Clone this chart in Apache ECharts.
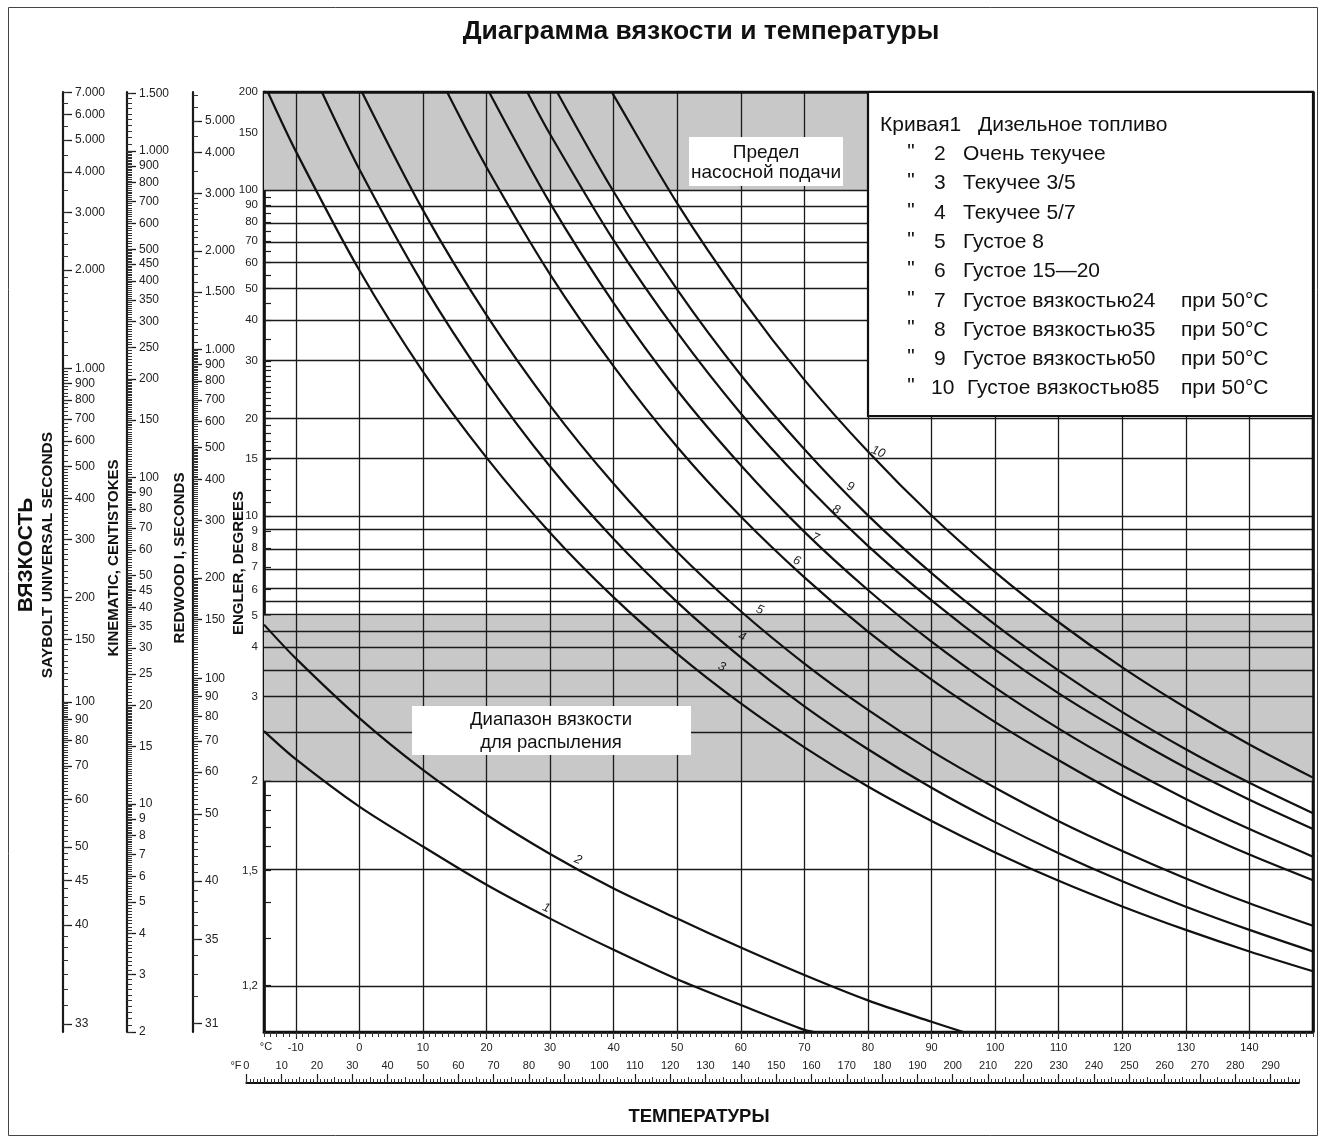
<!DOCTYPE html>
<html><head><meta charset="utf-8">
<script src="https://cdn.jsdelivr.net/npm/echarts@6.0.0/dist/echarts.min.js"></script>
<style>html,body{margin:0;padding:0;background:#fff}#chart{width:1321px;height:1140px}</style>
</head><body><div id="chart"></div>
<script>
// ------------------------- DATA -------------------------
// Temperatures (°C) at which the curves were read
const tempsC = [-15, -10, 0, 10, 20, 30, 40, 50, 60, 70, 80, 90, 100, 110, 120, 130, 140, 150];
// Kinematic viscosity (cSt) of each curve at those temperatures (null = outside chart)
const curve1  = [16.7, 13.7, 9.8, 7.4, 5.65, 4.45, 3.57, 2.9, 2.42, 2.03, null, null, null, null, null, null, null, null];
const curve2  = [35.4, 27.9, 18.3, 12.7, 9.26, 7.02, 5.5, 4.45, 3.63, 2.99, 2.5, 2.15, null, null, null, null, null, null];
const curve3  = [null, 999, 431, 211, 115, 67.7, 42.9, 28.8, 20.3, 14.9, 11.3, 8.86, 7.10, 5.81, 4.85, 4.11, 3.53, 3.07];
const curve4  = [null, null, 879, 391, 196, 108, 64.8, 41.5, 28.1, 19.9, 14.7, 11.2, 8.79, 7.06, 5.79, 4.84, 4.11, 3.53];
const curve5  = [null, null, null, 659, 314, 166, 95.6, 59.1, 38.9, 26.9, 19.4, 14.5, 11.2, 8.85, 7.17, 5.91, 4.96, 4.23];
const curve6  = [null, null, null, null, 892, 419, 219, 124, 75.9, 49.4, 33.7, 24.0, 17.8, 13.6, 10.6, 8.54, 6.99, 5.83];
const curve7  = [null, null, null, null, null, 692, 342, 185, 109, 68.1, 45.2, 31.4, 22.7, 17.0, 13.1, 10.35, 8.37, 6.89];
const curve8  = [null, null, null, null, null, 1125, 532, 278, 157, 95.7, 61.7, 42.0, 29.7, 21.8, 16.6, 12.9, 10.3, 8.38];
const curve9  = [null, null, null, null, null, null, 750, 376, 206, 122, 76.5, 50.9, 35.4, 25.6, 19.1, 14.7, 11.6, 9.36];
const curve10 = [null, null, null, null, null, null, 1480, 691, 356, 199, 120, 76.4, 51.3, 36.0, 26.2, 19.7, 15.2, 12.03];
// Temperature (°C) where a curve leaves the top of the chart (200 °E) / reaches the bottom (2 cSt)
const topExitC    = [null, null, -14.4, -5.9, 0.4, 13.8, 20.4, 26.4, 31.1, 39.7];
const bottomExitC = [71.5, 95, null, null, null, null, null, null, null, null];
// Where each curve's number is written (°C, cSt)
const curveLabelC   = [29.4, 34.4, 57.0, 60.2, 63.0, 68.8, 71.7, 75.0, 77.2, 81.6];
const curveLabelCst = [4.80, 6.74, 26.3, 32.5, 39.3, 55.5, 65.3, 79.5, 93.5, 119.7];
const curveNumbers = ['1', '2', '3', '4', '5', '6', '7', '8', '9', '10'];
const curveNames = ['Дизельное топливо', 'Очень текучее', 'Текучее 3/5', 'Текучее 5/7', 'Густое 8', 'Густое 15—20',
  'Густое вязкостью24', 'Густое вязкостью35', 'Густое вязкостью50', 'Густое вязкостью85'];
const curveSuffix = [null, null, null, null, null, null, 'при 50°C', 'при 50°C', 'при 50°C', 'при 50°C'];

// Shaded bands (Engler degrees)
const pumpLimitEngler = [100, 200];
const atomizeEngler = [2, 5];

// Engler ↔ kinematic (cSt) conversion table
const englerRef = [1.0, 1.12, 1.22, 1.31, 1.40, 1.48, 1.56, 1.65, 1.75, 1.84, 2.02, 2.22, 2.43, 2.64, 2.85, 3.40, 3.95, 5.30, 6.60, 7.90, 9.20, 10.50, 13.20];
const cstRef    = [1.0, 2, 3, 4, 5, 6, 7, 8, 9, 10, 12, 14, 16, 18, 20, 25, 30, 40, 50, 60, 70, 80, 100];

// Tick labels
const sayboltLabels   = [7000, 6000, 5000, 4000, 3000, 2000, 1000, 900, 800, 700, 600, 500, 400, 300, 200, 150, 100, 90, 80, 70, 60, 50, 45, 40, 33];
const kinematicLabels = [1500, 1000, 900, 800, 700, 600, 500, 450, 400, 350, 300, 250, 200, 150, 100, 90, 80, 70, 60, 50, 45, 40, 35, 30, 25, 20, 15, 10, 9, 8, 7, 6, 5, 4, 3, 2];
const redwoodLabels   = [5000, 4000, 3000, 2000, 1500, 1000, 900, 800, 700, 600, 500, 400, 300, 200, 150, 100, 90, 80, 70, 60, 50, 40, 35, 31];
const englerLabels    = [200, 150, 100, 90, 80, 70, 60, 50, 40, 30, 20, 15, 10, 9, 8, 7, 6, 5, 4, 3, 2, 1.5, 1.2];
const englerGrid      = [100, 90, 80, 70, 60, 50, 40, 30, 20, 15, 10, 9, 8, 7, 6, 5.5, 5, 4.5, 4, 3.5, 3, 2.5, 2, 1.5, 1.2];
const englerMinor     = [95, 85, 75, 65, 55, 45, 35, 29, 28, 27, 26, 25, 24, 23, 22, 21, 19, 18, 17, 16, 14, 13, 12, 11, 1.9, 1.8, 1.7, 1.6, 1.4, 1.3];
const tempTicksC      = [-10, 0, 10, 20, 30, 40, 50, 60, 70, 80, 90, 100, 110, 120, 130, 140];
const fahrenheitTicks = [0, 10, 20, 30, 40, 50, 60, 70, 80, 90, 100, 110, 120, 130, 140, 150, 160, 170, 180, 190, 200, 210, 220, 230, 240, 250, 260, 270, 280, 290];
// minor tick steps [from, to, step]
const sayboltMinorSteps   = [[33, 100, 1], [100, 200, 5], [200, 500, 10], [500, 1000, 20], [1000, 2000, 100], [2000, 3000, 200], [3000, 7000, 500]];
const kinematicMinorSteps = [[2, 10, 0.1], [10, 20, 0.2], [20, 50, 0.5], [50, 100, 1], [100, 200, 2], [200, 500, 5], [500, 1000, 10], [1000, 1500, 50]];
const redwoodMinorSteps   = [[31, 100, 1], [100, 200, 2], [200, 500, 5], [500, 1000, 10], [1000, 1500, 50], [1500, 3000, 100], [3000, 6000, 500]];

// ------------------------- HELPERS -------------------------
const L = Math.log10;
const FONT = '"Liberation Sans", Arial, Helvetica, sans-serif';
function logInterp(x, xs, ys) {
  let i = 0;
  while (i < xs.length - 2 && x > xs[i + 1]) i++;
  const x0 = L(xs[i]), x1 = L(xs[i + 1]), y0 = L(ys[i]), y1 = L(ys[i + 1]);
  return Math.pow(10, y0 + (L(x) - x0) / (x1 - x0) * (y1 - y0));
}
function englerToCst(e) { return e >= 13.2 ? 7.58 * e : logInterp(e, englerRef, cstRef); }
function susOf(v) { return 4.6324 * v + (1 + 0.03264 * v) / ((3930.2 + 262.7 * v + 23.97 * v * v + 1.646 * v * v * v) * 1e-5); }
function susToCst(s) { let lo = 0.5, hi = 5000; for (let k = 0; k < 80; k++) { const m = (lo + hi) / 2; if (susOf(m) < s) lo = m; else hi = m; } return (lo + hi) / 2; }
function redwoodToCst(t) { return t < 100 ? 0.26 * t - 184 / t : 0.247 * t - 50 / t; }
function steps(list) { const out = []; list.forEach(([a, b, s]) => { for (let k = 0; a + k * s <= b + 1e-9; k++) out.push(+(a + k * s).toFixed(4)); }); return out; }
function fmtNum(v) {
  if (v >= 1000) return Math.floor(v / 1000) + '.' + String(v % 1000).padStart(3, '0');
  return String(v).replace('.', ',');
}
function nearestFormatter(vals, texts) {
  return function (val) {
    let best = 0, bd = Infinity;
    for (let i = 0; i < vals.length; i++) { const d = Math.abs(vals[i] - val); if (d < bd) { bd = d; best = i; } }
    return texts[best];
  };
}

const Y_MIN = L(2);
const Y_MAX = L(englerToCst(200));
const X_MIN = -15, X_MAX = 150;
const PLOT_LEFT = 264, PLOT_W = 1049, GRID_TOP = 92, GRID_H = 940;
const pxPerC = PLOT_W / (X_MAX - X_MIN);
const F_MIN = 0, F_MAX = 298;
const fLeft = PLOT_LEFT + ((F_MIN - 32) / 1.8 - X_MIN) * pxPerC;
const fWidth = (F_MAX - F_MIN) / 1.8 * pxPerC;

const tickColor = '#1a1a1a';
const labelStyle = { color: '#222', fontFamily: FONT, fontSize: 12 };

function rulerYAxes(gridIndex, labels, minorVals, conv) {
  const vals = labels.map(v => L(conv(v)));
  const minors = minorVals.map(v => L(conv(v))).filter(v => v >= Y_MIN && v <= Y_MAX);
  return [
    { gridIndex, type: 'value', min: Y_MIN, max: Y_MAX, position: 'left',
      axisLine: { show: true, onZero: false, lineStyle: { color: tickColor, width: 2.2 } },
      axisTick: { show: true, inside: true, length: 9, customValues: vals, lineStyle: { color: tickColor, width: 1.3 } },
      axisLabel: Object.assign({ show: true, inside: true, margin: 12, customValues: vals,
        formatter: nearestFormatter(vals, labels.map(fmtNum)) }, labelStyle),
      splitLine: { show: false } },
    { gridIndex, type: 'value', min: Y_MIN, max: Y_MAX, position: 'left',
      axisLine: { show: false, onZero: false },
      axisTick: { show: true, inside: true, length: 5, customValues: minors, lineStyle: { color: '#333', width: 1 } },
      axisLabel: { show: false }, splitLine: { show: false } }
  ];
}

// ------------------------- SERIES -------------------------
const curves = [curve1, curve2, curve3, curve4, curve5, curve6, curve7, curve8, curve9, curve10];
const curveSeries = curves.map((vals, i) => {
  const pts = [];
  if (topExitC[i] != null) pts.push([topExitC[i], Y_MAX]);
  vals.forEach((v, k) => { if (v != null) pts.push([tempsC[k], L(v)]); });
  if (bottomExitC[i] != null) pts.push([bottomExitC[i], Y_MIN]);
  return {
    type: 'line', name: 'Кривая ' + curveNumbers[i], xAxisIndex: 0, yAxisIndex: 0, z: 5,
    data: pts, symbol: 'none', smooth: 0.3, clip: true, silent: true,
    lineStyle: { color: '#111', width: 2.2 },
    markPoint: { silent: true, symbol: 'circle', symbolSize: 0, animation: false,
      data: [{ coord: [curveLabelC[i], L(curveLabelCst[i])], label: { show: true, formatter: curveNumbers[i], offset: [0, 0], rotate: -22,
        fontStyle: 'italic', fontSize: 12.5, color: '#222', fontFamily: FONT } }] }
  };
});

const gridLineData = [
  ...tempTicksC.map(t => ({ xAxis: t })),
  ...englerGrid.map(e => ({ yAxis: L(englerToCst(e)) })),
  { yAxis: Y_MAX, lineStyle: { width: 2.6, color: '#111' } },
  { xAxis: X_MAX, lineStyle: { width: 2.6, color: '#111' } }
];

const series = [
  { type: 'line', name: 'shade', xAxisIndex: 0, yAxisIndex: 0, data: [], z: 1, silent: true,
    markArea: { silent: true, itemStyle: { color: '#c8c8c8' },
      data: [
        [{ xAxis: X_MIN, yAxis: L(englerToCst(pumpLimitEngler[0])) }, { xAxis: X_MAX, yAxis: L(englerToCst(pumpLimitEngler[1])) }],
        [{ xAxis: X_MIN, yAxis: L(englerToCst(atomizeEngler[0])) }, { xAxis: X_MAX, yAxis: L(englerToCst(atomizeEngler[1])) }]
      ] } },
  { type: 'line', name: 'grid', xAxisIndex: 0, yAxisIndex: 0, data: [], z: 2, silent: true,
    markLine: { silent: true, symbol: ['none', 'none'], label: { show: false }, animation: false,
      lineStyle: { color: '#1a1a1a', width: 1.3, type: 'solid' }, data: gridLineData } },
  ...curveSeries
];

// ------------------------- AXES -------------------------
const englerVals = englerLabels.map(e => L(englerToCst(e)));
const xAxis = [
  { gridIndex: 0, type: 'value', min: X_MIN, max: X_MAX, position: 'bottom',
    axisLine: { show: true, onZero: false, lineStyle: { color: '#111', width: 2.6 } },
    axisTick: { show: true, length: 7, customValues: tempTicksC, lineStyle: { color: tickColor, width: 1.2 } },
    axisLabel: Object.assign({ customValues: tempTicksC, margin: 10 }, labelStyle, { fontSize: 11 }),
    splitLine: { show: false } },
  { gridIndex: 0, type: 'value', min: X_MIN, max: X_MAX, position: 'bottom',
    axisLine: { show: false, onZero: false },
    axisTick: { show: true, length: 5, customValues: steps([[X_MIN, X_MAX, 1]]), lineStyle: { color: '#333', width: 1 } },
    axisLabel: { show: false }, splitLine: { show: false } },
  { gridIndex: 1, type: 'value', min: 0, max: 1, show: false },
  { gridIndex: 2, type: 'value', min: 0, max: 1, show: false },
  { gridIndex: 3, type: 'value', min: 0, max: 1, show: false },
  { gridIndex: 4, type: 'value', min: F_MIN, max: F_MAX, position: 'bottom',
    axisLine: { show: true, onZero: false, lineStyle: { color: '#111', width: 2 } },
    axisTick: { show: true, inside: true, length: 9, customValues: fahrenheitTicks, lineStyle: { color: tickColor, width: 1.2 } },
    axisLabel: Object.assign({ inside: true, margin: 12, customValues: fahrenheitTicks }, labelStyle, { fontSize: 11 }),
    splitLine: { show: false } },
  { gridIndex: 4, type: 'value', min: F_MIN, max: F_MAX, position: 'bottom',
    axisLine: { show: false, onZero: false },
    axisTick: { show: true, inside: true, length: 4, customValues: steps([[F_MIN, F_MAX, 1]]), lineStyle: { color: '#333', width: 1 } },
    axisLabel: { show: false }, splitLine: { show: false } },
  { gridIndex: 4, type: 'value', min: F_MIN, max: F_MAX, position: 'bottom',
    axisLine: { show: false, onZero: false },
    axisTick: { show: true, inside: true, length: 6, customValues: steps([[5, 295, 10]]), lineStyle: { color: '#333', width: 1 } },
    axisLabel: { show: false }, splitLine: { show: false } }
];
const yAxis = [
  { gridIndex: 0, type: 'value', min: Y_MIN, max: Y_MAX, position: 'left',
    axisLine: { show: true, onZero: false, lineStyle: { color: '#111', width: 2.6 } },
    axisTick: { show: true, inside: true, length: 7, customValues: englerVals, lineStyle: { color: tickColor, width: 1.2 } },
    axisLabel: Object.assign({ customValues: englerVals, margin: 6,
      formatter: nearestFormatter(englerVals, englerLabels.map(fmtNum)) }, labelStyle, { fontSize: 11.5 }),
    splitLine: { show: false } },
  { gridIndex: 0, type: 'value', min: Y_MIN, max: Y_MAX, position: 'left',
    axisLine: { show: false, onZero: false },
    axisTick: { show: true, inside: true, length: 7, customValues: englerMinor.map(e => L(englerToCst(e))), lineStyle: { color: tickColor, width: 1.2 } },
    axisLabel: { show: false }, splitLine: { show: false } },
  ...rulerYAxes(1, sayboltLabels, steps(sayboltMinorSteps), susToCst),
  ...rulerYAxes(2, kinematicLabels, steps(kinematicMinorSteps), v => v),
  ...rulerYAxes(3, redwoodLabels, steps(redwoodMinorSteps), redwoodToCst),
  { gridIndex: 4, type: 'value', min: 0, max: 1, show: false }
];

// ------------------------- GRAPHICS (texts, boxes) -------------------------
function txt(text, x, y, size, opts) {
  opts = opts || {};
  return { type: 'text', x, y, rotation: opts.rotation || 0, z: 100, silent: true,
    style: { text, fill: opts.fill || '#111', fontSize: size, fontWeight: opts.bold ? 'bold' : 'normal',
      fontFamily: FONT, align: opts.align || 'left', verticalAlign: 'middle', lineHeight: opts.lineHeight } };
}
const legendRowsY = curveNames.map((_, i) => 125 + i * 29.3);
const graphics = [
  { type: 'rect', z: 99, silent: true, shape: { x: 8.5, y: 7.5, width: 1309, height: 1128 }, style: { fill: 'none', stroke: '#444', lineWidth: 1 } },
  txt('Диаграмма вязкости и температуры', 701, 32, 26.5, { bold: true, align: 'center' }),
  txt('ВЯЗКОСТЬ', 26, 555, 21, { bold: true, align: 'center', rotation: Math.PI / 2 }),
  txt('SAYBOLT UNIVERSAL SECONDS', 48, 555, 15.5, { bold: true, align: 'center', rotation: Math.PI / 2 }),
  txt('KINEMATIC, CENTISTOKES', 114, 558, 15, { bold: true, align: 'center', rotation: Math.PI / 2 }),
  txt('REDWOOD I, SECONDS', 180, 558, 15, { bold: true, align: 'center', rotation: Math.PI / 2 }),
  txt('ENGLER, DEGREES', 239, 563, 15, { bold: true, align: 'center', rotation: Math.PI / 2 }),
  txt('°C', 266, 1047, 11, { align: 'center', fill: '#222' }),
  txt('°F', 236, 1066, 11, { align: 'center', fill: '#222' }),
  txt('ТЕМПЕРАТУРЫ', 699, 1117, 18.5, { bold: true, align: 'center' }),
  // legend box
  { type: 'rect', z: 99, silent: true, shape: { x: 868, y: 92, width: 445, height: 324 }, style: { fill: '#fff', stroke: '#111', lineWidth: 2.2 } },
  // annotation boxes
  { type: 'rect', z: 99, silent: true, shape: { x: 689, y: 137, width: 154, height: 49 }, style: { fill: '#fff' } },
  txt('Предел\nнасосной подачи', 766, 163, 19, { align: 'center', lineHeight: 20 }),
  { type: 'rect', z: 99, silent: true, shape: { x: 412, y: 706, width: 279, height: 49 }, style: { fill: '#fff' } },
  txt('Диапазон вязкости\nдля распыления', 551, 731, 18.5, { align: 'center', lineHeight: 23 })
];
curveNames.forEach((name, i) => {
  const y = legendRowsY[i];
  if (i === 0) {
    graphics.push(txt('Кривая' + curveNumbers[0], 880, y, 21));
    graphics.push(txt(name, 978, y, 21));
  } else {
    graphics.push(txt('"', 911, y - 2, 21, { align: 'center' }));
    graphics.push(txt(curveNumbers[i], i === 9 ? 931 : 934, y, 21));
    graphics.push(txt(name, i === 9 ? 967 : 963, y, 21));
  }
  if (curveSuffix[i]) graphics.push(txt(curveSuffix[i], 1181, y, 21));
});

const option = {
  animation: false,
  backgroundColor: '#fff',
  grid: [
    { left: PLOT_LEFT, top: GRID_TOP, width: PLOT_W, height: GRID_H, show: true, borderColor: '#111', borderWidth: 2.6, backgroundColor: 'transparent' },
    { left: 63, top: GRID_TOP, width: 50, height: GRID_H },
    { left: 127, top: GRID_TOP, width: 50, height: GRID_H },
    { left: 193, top: GRID_TOP, width: 40, height: GRID_H },
    { left: fLeft, top: 1053, width: fWidth, height: 30 }
  ],
  xAxis, yAxis, series,
  graphic: graphics
};
const chart = echarts.init(document.getElementById('chart'), null, { renderer: 'canvas' });
chart.setOption(option);
</script></body></html>
